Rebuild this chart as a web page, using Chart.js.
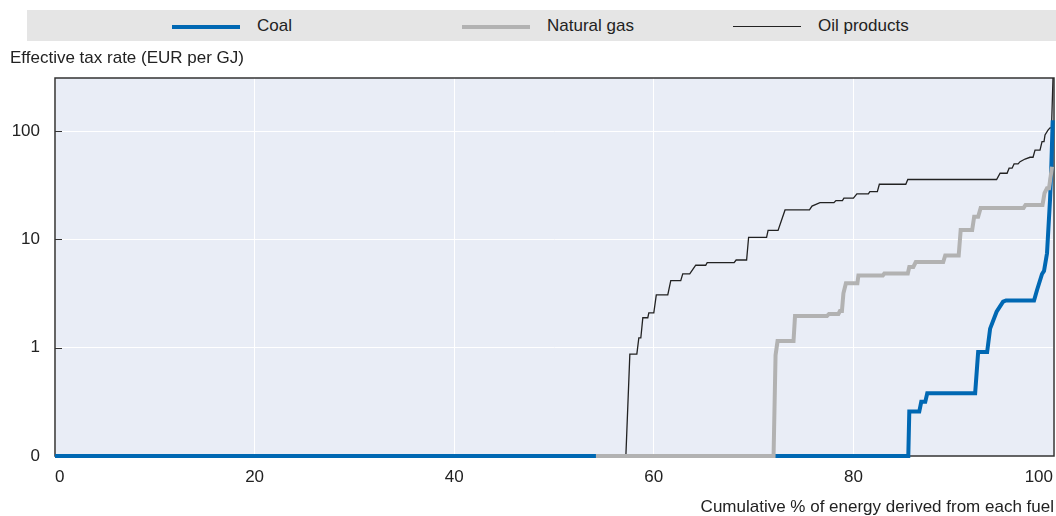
<!DOCTYPE html>
<html>
<head>
<meta charset="utf-8">
<script src="https://cdn.jsdelivr.net/npm/chart.js@4.4.1/dist/chart.umd.min.js"></script>
<style>
  body { margin: 0; background: #fff; }
  #wrap { position: relative; width: 1056px; height: 516px; font-family: 'Liberation Sans', Arial, sans-serif; color: #222; }
  #chart { position: absolute; left: 0; top: 0; }
  .legend { position: absolute; left: 27px; top: 10px; width: 1029px; height: 31px; background: #e5e5e5; }
  .item { position: absolute; top: 0; height: 31px; line-height: 31px; font-size: 17px; white-space: nowrap; }
  .swatch { display: inline-block; width: 68px; vertical-align: middle; margin-right: 17px; }
  .ytitle { position: absolute; left: 10px; top: 48px; font-size: 17px; white-space: nowrap; }
</style>
</head>
<body>
<div id="wrap">
  <canvas id="chart" width="1056" height="516"></canvas>
  <div class="legend">
    <div class="item" style="left:145px"><span class="swatch" style="height:4px;background:#0068b3"></span>Coal</div>
    <div class="item" style="left:435px"><span class="swatch" style="height:4px;background:#b2b2b2"></span>Natural gas</div>
    <div class="item" style="left:706px"><span class="swatch" style="height:1.5px;background:#222"></span>Oil products</div>
  </div>
  <div class="ytitle">Effective tax rate (EUR per GJ)</div>
</div>
<script>
// Cumulative share of energy (%) and effective tax rate (EUR per GJ), per fuel
const coalX = [0, 85.5, 85.6, 86.6, 86.8, 87.2, 87.4, 92.2, 92.5, 93.4, 93.7, 94.35, 95.0, 95.3, 98.1, 98.4, 98.9, 99.1, 99.4, 99.7, 99.8, 99.97];
const coalY = [0, 0, 0.41, 0.41, 0.5, 0.5, 0.58, 0.58, 0.96, 0.96, 1.5, 2.15, 2.66, 2.73, 2.73, 3.41, 4.79, 5.11, 7.45, 23.1, 37.9, 126];

const gasX = [54.2, 72.0, 72.2, 72.4, 74.0, 74.15, 77.35, 77.55, 78.5, 78.65, 78.85, 79.0, 79.25, 80.4, 80.5, 82.95, 83.1, 85.45, 85.6, 86.0,
  86.25, 89.0, 89.2, 90.55, 90.75, 91.9, 92.1, 92.5, 92.75, 97.05, 97.25, 98.95, 99.15, 99.4, 99.6, 99.9];
const gasY = [0, 0, 0.93, 1.15, 1.15, 1.96, 1.96, 2.05, 2.05, 2.18, 2.18, 3.18, 3.93, 3.93, 4.64, 4.64, 4.84, 4.84, 5.56, 5.56,
  6.18, 6.18, 7.1, 7.1, 12.2, 12.2, 16.2, 16.2, 19.5, 19.5, 20.8, 20.8, 26.7, 29.7, 29.7, 46.9];

const oilX = [0, 57.2, 57.6, 58.3, 58.5, 58.7, 58.9, 59.4, 59.5, 60.0, 60.25, 61.4, 61.7, 62.7, 62.9, 63.6, 64.2, 65.2, 65.35, 68.05,
  68.25, 69.3, 69.5, 71.3, 71.45, 72.45, 73.15, 75.6, 75.85, 76.65, 78.05, 78.25, 78.9, 79.05, 80.0, 80.35, 81.5, 81.65, 82.4, 82.6,
  85.25, 85.45, 94.35, 94.7, 95.4, 95.6, 95.9, 96.1, 96.5, 96.7, 97.2, 97.7, 98.0, 98.2, 98.7, 98.9, 99.1, 99.2, 99.5, 99.7, 99.85, 100.0];
const oilY = [0, 0, 0.94, 0.94, 1.23, 1.23, 1.89, 1.89, 2.1, 2.1, 3.07, 3.07, 4.16, 4.16, 4.8, 4.8, 5.77, 5.77, 6.1, 6.1,
  6.45, 6.45, 10.45, 10.45, 12.1, 12.1, 18.7, 18.7, 20.3, 21.8, 21.8, 22.8, 22.8, 24.0, 24.0, 26.3, 26.3, 27.6, 27.6, 32.3,
  32.3, 35.7, 35.7, 40.8, 40.8, 45.4, 45.4, 49.7, 49.7, 52.2, 55.2, 57.3, 57.3, 66.8, 66.8, 79.8, 79.8, 92, 102, 107, 107, 309];

const xTicks = [0, 20, 40, 60, 80, 100];
const yTicks = [0, 1, 10, 100];

// linear between 0 and 1, log10 above
function toAxis(v) {
  return v <= 1 ? v : 1 + Math.log10(v);
}
function points(xs, ys) {
  return xs.map((x, i) => ({ x: x, y: toAxis(ys[i]) }));
}

const FONT = "'Liberation Sans', Arial, sans-serif";

const plotFrame = {
  id: 'plotFrame',
  beforeDraw(chart) {
    const { ctx, chartArea: a } = chart;
    ctx.save();
    ctx.fillStyle = '#e9edf6';
    ctx.fillRect(a.left, a.top, a.right - a.left, a.bottom - a.top);
    ctx.restore();
  },
  beforeDatasetsDraw(chart) {
    const { ctx, chartArea: a, scales } = chart;
    ctx.save();
    ctx.strokeStyle = '#333';
    ctx.lineWidth = 1.5;
    ctx.strokeRect(a.left, a.top, a.right - a.left, a.bottom - a.top);
    ctx.lineWidth = 1;
    yTicks.forEach(v => {
      const y = Math.round(scales.y.getPixelForValue(toAxis(v))) + 0.5;
      ctx.beginPath();
      ctx.moveTo(a.left, y);
      ctx.lineTo(a.left + 7, y);
      ctx.stroke();
    });
    ctx.restore();
  }
};

new Chart(document.getElementById('chart'), {
  type: 'line',
  data: {
    datasets: [
      { label: 'Coal', data: points(coalX, coalY), borderColor: '#0068b3', borderWidth: 4, order: 1 },
      { label: 'Natural gas', data: points(gasX, gasY), borderColor: '#b2b2b2', borderWidth: 4, order: 0 },
      { label: 'Oil products', data: points(oilX, oilY), borderColor: '#222', borderWidth: 1.3, order: 2 }
    ]
  },
  options: {
    responsive: false,
    devicePixelRatio: 1,
    animation: false,
    layout: { padding: { top: 78, right: 2, left: 0, bottom: 0 } },
    elements: { point: { radius: 0 }, line: { tension: 0 } },
    datasets: { line: { clip: false } },
    plugins: { legend: { display: false }, tooltip: { enabled: false } },
    scales: {
      x: {
        type: 'linear',
        min: 0,
        max: 100.1,
        afterBuildTicks: axis => { axis.ticks = xTicks.map(v => ({ value: v })); },
        afterFit: axis => { axis.height = 60; axis.paddingLeft = 0; axis.paddingRight = 0; },
        grid: { color: '#fff', lineWidth: 1, drawTicks: false },
        border: { display: false },
        ticks: { padding: 11, align: 'inner', color: '#222', font: { family: FONT, size: 17 } },
        title: {
          display: true,
          text: 'Cumulative % of energy derived from each fuel',
          align: 'end',
          color: '#222',
          padding: 0,
          font: { family: FONT, size: 17, lineHeight: 1 }
        }
      },
      y: {
        min: 0,
        max: 3.49,
        afterBuildTicks: axis => { axis.ticks = yTicks.map(v => ({ value: toAxis(v) })); },
        afterFit: axis => { axis.width = 55; axis.paddingTop = 0; axis.paddingBottom = 0; },
        grid: { color: '#fff', lineWidth: 1, drawTicks: false },
        border: { display: false },
        ticks: {
          padding: 15,
          color: '#222',
          font: { family: FONT, size: 17 },
          callback: (value) => String(yTicks.find(v => Math.abs(toAxis(v) - value) < 1e-6))
        }
      }
    }
  },
  plugins: [plotFrame]
});
</script>
</body>
</html>
